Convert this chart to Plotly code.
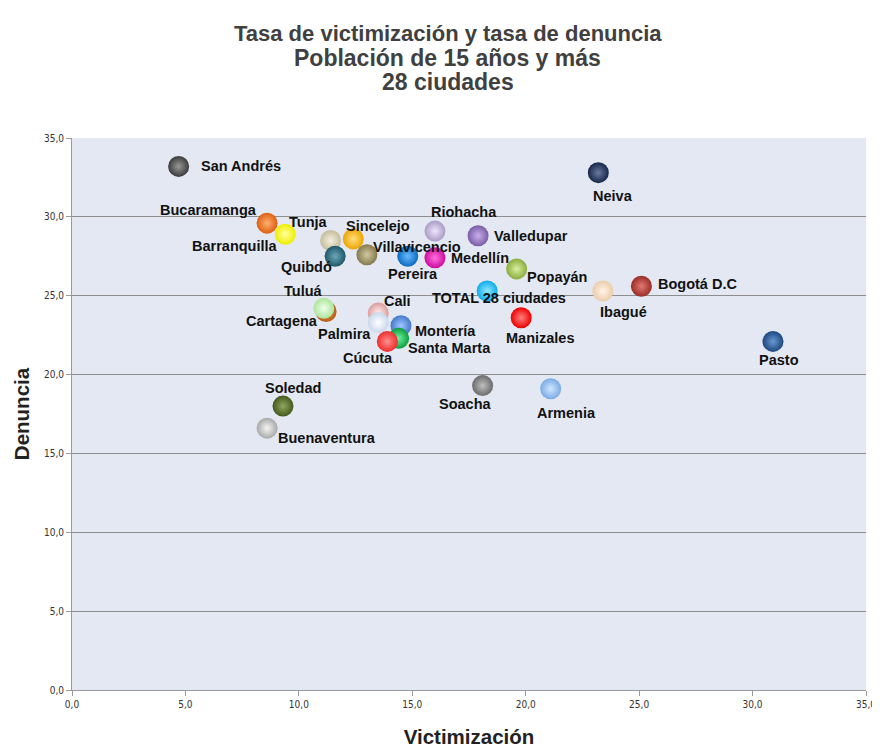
import plotly.graph_objects as go

cities = ["San Andrés", "Neiva", "Bucaramanga", "Tunja", "Barranquilla", "Quibdó",
          "Sincelejo", "Villavicencio", "Pereira", "Medellín", "Riohacha", "Valledupar",
          "Popayán", "TOTAL 28 ciudades", "Ibagué", "Bogotá D.C", "Manizales", "Pasto",
          "Cartagena", "Tuluá", "Cali", "Palmira", "Montería", "Santa Marta", "Cúcuta",
          "Soacha", "Armenia", "Soledad", "Buenaventura"]
victimizacion = [4.7, 23.2, 8.6, 9.4, 11.4, 11.6,
                 12.4, 13.0, 14.8, 16.0, 16.0, 17.9,
                 19.6, 18.3, 23.4, 25.1, 19.8, 30.9,
                 11.2, 11.1, 13.5, 13.5, 14.5, 14.4, 13.9,
                 18.1, 21.1, 9.3, 8.6]
denuncia = [33.2, 32.8, 29.6, 28.9, 28.5, 27.5,
            28.6, 27.6, 27.5, 27.4, 29.1, 28.8,
            26.7, 25.3, 25.3, 25.6, 23.6, 22.1,
            24.0, 24.2, 23.9, 23.3, 23.1, 22.3, 22.1,
            19.3, 19.1, 18.0, 16.6]

title_lines = ["Tasa de victimización y tasa de denuncia", "Población de 15 años y más", "28 ciudades"]

colors = ["#3a3a3a", "#16264a", "#de5e10", "#eeee00", "#c4bc9c", "#1e5868",
          "#eea400", "#867a4c", "#0a6cc0", "#cc0c9c", "#aa9cc4", "#7a5ca4",
          "#8aac3c", "#0cacea", "#eccca8", "#9a2c26", "#ee0000", "#1c4680",
          "#b85a10", "#ace49c", "#dc9c9c", "#c8d8ec", "#4478cc", "#0c9c3c", "#ee2c2c",
          "#6a6a6a", "#7aaae4", "#44581c", "#a8a8a8"]
highlights = ["#9a9a9a", "#6a7aa0", "#ffb070", "#ffffa0", "#f4f0e0", "#6ea8b8",
              "#ffe080", "#d0c8a0", "#6ab8ff", "#ff70e0", "#eee4ff", "#c8b0f0",
              "#d8f0a0", "#90e8ff", "#fff4e8", "#e07a70", "#ff8080", "#6a9ad0",
              "#f0a060", "#eeffe8", "#fff0f0", "#ffffff", "#a0c8ff", "#70f0a0", "#ff9090",
              "#c0c0c0", "#d0e8ff", "#90a860", "#f4f4f4"]

# label offsets in pixels (style)
dx = [62, 15, -59, 23, -96, -29,
      25, 50, 5, 45, 29, 53,
      40, 12, 21, 56, 19, 6,
      -44, -20, 19, -34, 45, 51, -19,
      -17, 16, 10, 60]
dy = [0, -23, 13, 12, -5, -11,
      13, 8, -18, 0, 19, 0,
      -8, -7, -21, 2, -20, -19,
      -10, 17, 12, -11, -5, -10, -17,
      -18, -24, 18, -10]

fig = go.Figure()
fig.add_trace(go.Scatter(
    x=victimizacion, y=denuncia, mode="markers", text=cities,
    marker=dict(size=21, color=colors,
                gradient=dict(type="radial", color=highlights),
                line=dict(width=0)),
    hoverinfo="text+x+y", showlegend=False))

for c, xv, yv, ox, oy in zip(cities, victimizacion, denuncia, dx, dy):
    fig.add_annotation(x=xv, y=yv, text=f"<b>{c}</b>", showarrow=False,
                       xshift=ox, yshift=oy,
                       font=dict(family="Liberation Sans, Arial", size=14.5, color="#111111"))

title_shift = [105, 80.5, 56]
title_size = [22, 23, 23]
for t, s, fs in zip(title_lines, title_shift, title_size):
    fig.add_annotation(xref="paper", yref="paper", x=0.4735, y=1, yshift=s,
                       xanchor="center", yanchor="middle", showarrow=False,
                       text=f"<b>{t}</b>",
                       font=dict(family="Liberation Sans, Arial", size=fs, color="#404040"))

tickvals = [0, 5, 10, 15, 20, 25, 30, 35]
ticktext = ["0,0", "5,0", "10,0", "15,0", "20,0", "25,0", "30,0", "35,0"]

fig.update_layout(
    width=872, height=740,
    margin=dict(l=64, r=14, t=130, b=58, autoexpand=False),
    paper_bgcolor="white", plot_bgcolor="#e3e8f3",
    xaxis=dict(range=[0, 35], tickvals=tickvals, ticktext=ticktext, automargin=False,
               showgrid=False, zeroline=False, showline=True, linecolor="#9a9a9a",
               ticks="outside", ticklen=5, tickcolor="#9a9a9a",
               tickfont=dict(family="DejaVu Sans Condensed, Liberation Sans", size=10, color="#333333"),
               title=dict(text="<b>Victimización</b>", standoff=20,
                          font=dict(family="Liberation Sans, Arial", size=20.5, color="#222222"))),
    yaxis=dict(range=[0, 35], tickvals=tickvals, ticktext=ticktext, automargin=False,
               showgrid=True, gridcolor="#8e8e8e", gridwidth=1,
               zeroline=False, showline=True, linecolor="#9a9a9a",
               ticks="outside", ticklen=5, tickcolor="#9a9a9a",
               tickfont=dict(family="DejaVu Sans Condensed, Liberation Sans", size=10, color="#333333"),
               title=dict(text="<b>Denuncia</b>", standoff=8,
                          font=dict(family="Liberation Sans, Arial", size=20.5, color="#222222"))),
)

fig.write_html("out.html")
